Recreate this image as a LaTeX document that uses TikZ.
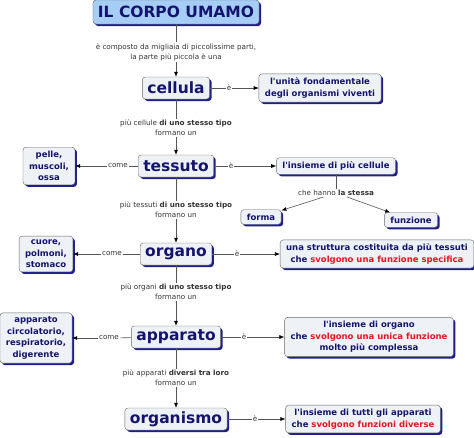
\documentclass[tikz,border=0pt]{standalone}
\usepackage{fontspec}
\setmainfont{DejaVu Sans}
\usetikzlibrary{arrows.meta, shadows}
\definecolor{boxfill}{HTML}{EEF2F7}
\definecolor{titlefill}{HTML}{A6CDF5}
\definecolor{navytext}{HTML}{14146E}
\definecolor{shadowblue}{HTML}{1E1E8C}
\definecolor{linkgray}{HTML}{555555}
\definecolor{hilite}{HTML}{E8141E}
\tikzset{
    x=1pt, y=-1pt, % pixel coordinates, y grows downwards
    concept/.style={draw=gray!80!black, rounded corners=3pt, fill=boxfill, text=navytext, align=center,
        drop shadow={shadow xshift=2pt, shadow yshift=-2pt, fill=shadowblue, opacity=1}}, % every box of the map
    bigconcept/.style={concept, font=\bfseries\fontsize{15.5}{15.5}\selectfont, inner xsep=5pt, minimum height=22pt}, % main chain
    smallconcept/.style={concept, font=\bfseries\fontsize{8.5}{11.5}\selectfont, inner xsep=6pt, inner ysep=4pt}, % side boxes
    linklabel/.style={font=\fontsize{7.2}{10}\selectfont, text=black!80, align=center, inner sep=1pt}, % words on the lines
    link/.style={draw=linkgray, line width=0.6pt},
    arrow/.style={link, -{Latex[length=5pt, width=4pt, black]}},
}

\begin{document}
\begin{tikzpicture}
\useasboundingbox (0,0) rectangle (474,437);
% main chain
\node[bigconcept, fill=titlefill, minimum height=24pt] (corpo) at (176,12) {IL CORPO UMAMO};
\node[bigconcept] (cellula) at (176,88) {cellula};
\node[bigconcept] (tessuto) at (176,166) {tessuto};
\node[bigconcept] (organo) at (176,254) {organo};
\node[bigconcept] (apparato) at (176,337) {apparato};
\node[bigconcept] (organismo) at (176,419) {organismo};
% boxes on the right
\node[smallconcept] (unita) at (320,88) {l\textquotesingle unità fondamentale\\degli organismi viventi};
\node[smallconcept] (insieme) at (336,166) {l\textquotesingle insieme di più cellule};
\node[smallconcept] (forma) at (261,217) {forma};
\node[smallconcept] (funzione) at (411,220) {funzione};
\node[smallconcept] (struttura) at (377,254) {una struttura costituita da più tessuti\\che {\color{hilite}svolgono una funzione specifica}};
\node[smallconcept] (insorgano) at (369,337) {l\textquotesingle insieme di organo\\che {\color{hilite}svolgono una unica funzione}\\molto più complessa};
\node[smallconcept] (tutti) at (363,419) {l\textquotesingle insieme di tutti gli apparati\\che {\color{hilite}svolgono funzioni diverse}};
% boxes on the left
\node[smallconcept] (pelle) at (49,166) {pelle,\\muscoli,\\ossa};
\node[smallconcept] (cuore) at (46,254) {cuore,\\polmoni,\\stomaco};
\node[smallconcept] (sistemi) at (36,338) {apparato\\circolatorio,\\respiratorio,\\digerente};
% link labels
\node[linklabel] (lcomp) at (176,52) {è composto da migliaia di piccolissime parti,\\la parte più piccola è una};
\node[linklabel] (lcell) at (176,128) {più cellule \textbf{di uno stesso tipo}\\formano un};
\node[linklabel] (ltess) at (176,210) {più tessuti \textbf{di uno stesso tipo}\\formano un};
\node[linklabel] (lorg) at (176,292) {più organi \textbf{di uno stesso tipo}\\formano un};
\node[linklabel] (lapp) at (176,378) {più apparati \textbf{diversi tra loro}\\formano un};
\node[linklabel] (lstessa) at (336,193) {che hanno \textbf{la stessa}};
\node[linklabel] (e1) at (229,88) {è};
\node[linklabel] (e2) at (231,166) {è};
\node[linklabel] (e3) at (237,254) {è};
\node[linklabel] (e4) at (244,337) {è};
\node[linklabel] (e5) at (255,419) {è};
\node[linklabel] (come1) at (118,166) {come};
\node[linklabel] (come2) at (112,254) {come};
\node[linklabel] (come3) at (109,338) {come};
% connectors down the chain
\draw[link] (corpo) -- (lcomp);
\draw[arrow] (lcomp) -- (cellula);
\draw[link] (cellula) -- (lcell);
\draw[arrow] (lcell) -- (tessuto);
\draw[link] (tessuto) -- (ltess);
\draw[arrow] (ltess) -- (organo);
\draw[link] (organo) -- (lorg);
\draw[arrow] (lorg) -- (apparato);
\draw[link] (apparato) -- (lapp);
\draw[arrow] (lapp) -- (organismo);
% connectors to the right
\draw[link] (cellula) -- (e1);
\draw[arrow] (e1) -- (unita);
\draw[link] (tessuto) -- (e2);
\draw[arrow] (e2) -- (insieme);
\draw[link] (organo) -- (e3);
\draw[arrow] (e3) -- (struttura);
\draw[link] (apparato) -- (e4);
\draw[arrow] (e4) -- (insorgano);
\draw[link] (organismo) -- (e5);
\draw[arrow] (e5) -- (tutti);
\draw[link] (insieme) -- (lstessa);
\draw[arrow] (lstessa) -- (forma);
\draw[arrow] (lstessa) -- (funzione);
% connectors to the left
\draw[link] (tessuto) -- (come1);
\draw[arrow] (come1) -- (pelle);
\draw[link] (organo) -- (come2);
\draw[arrow] (come2) -- (cuore);
\draw[link] (apparato) -- (come3);
\draw[arrow] (come3) -- (sistemi);
\end{tikzpicture}
\end{document}
